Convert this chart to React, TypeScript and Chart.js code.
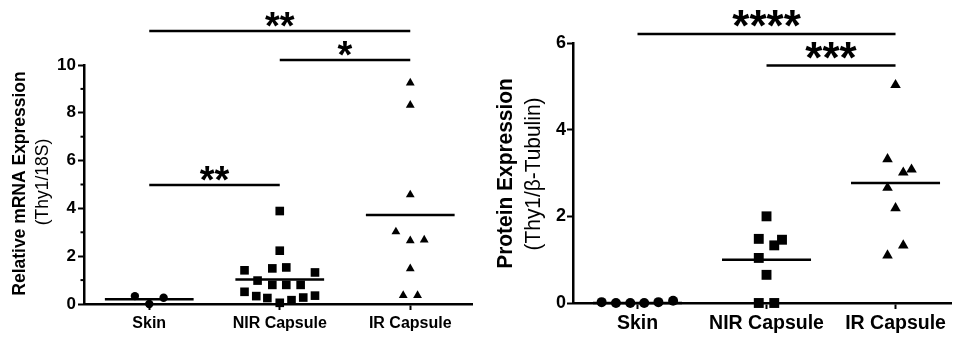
import React, { useEffect, useRef } from 'react';
import { Chart, registerables } from 'chart.js';

Chart.register(...registerables);

const FONT = '"Liberation Sans", Arial, Helvetica, sans-serif';

const categories = ['Skin', 'NIR Capsule', 'IR Capsule'];

// ---- Left panel: Relative mRNA Expression (Thy1/18S) ----
const mrnaSkinX = [-0.11, 0, 0.11];
const mrnaSkinY = [0.33, 0.0, 0.26];
const mrnaNirX = [0, 0, -0.27, -0.057, 0.05, 0.27, -0.17, -0.057, 0.05, 0.16, -0.27, -0.18, -0.095, 0, 0.09, 0.18, 0.27];
const mrnaNirY = [3.89, 2.23, 1.41, 1.49, 1.53, 1.32, 0.98, 0.8, 0.8, 0.8, 0.51, 0.33, 0.25, 0.05, 0.16, 0.27, 0.35];
const mrnaIrX = [0, 0, 0, -0.11, 0, 0.107, 0, -0.054, 0.056];
const mrnaIrY = [9.25, 8.32, 4.57, 3.02, 2.65, 2.68, 1.48, 0.36, 0.36];
const mrnaMeans = [0.2, 1.03, 3.72];
const mrnaTicks = [0, 2, 4, 6, 8, 10];
const mrnaMinorTicks = [1, 3, 5, 7, 9];
const mrnaSigFrom = [0, 1, 0];
const mrnaSigTo = [2, 2, 1];
const mrnaSigY = [11.42, 10.21, 4.98];
const mrnaSigLabels = ['**', '*', '**'];

// ---- Right panel: Protein Expression (Thy1/β-Tubulin) ----
const protSkinX = [-0.278, -0.167, -0.056, 0.052, 0.162, 0.276];
const protSkinY = [0.02, 0, 0, 0, 0.02, 0.05];
const protNirX = [0, -0.06, 0.12, 0.06, -0.06, 0, -0.06, 0.06];
const protNirY = [2.0, 1.48, 1.46, 1.33, 1.04, 0.65, 0, 0];
const protIrX = [0, -0.062, 0.06, 0.124, -0.062, 0, 0.06, -0.062];
const protIrY = [5.03, 3.32, 3.01, 3.08, 2.66, 2.19, 1.33, 1.1];
const protMeans = [0.0, 1.0, 2.77];
const protTicks = [0, 2, 4, 6];
const protMinorTicks: number[] = [];
const protSigFrom = [0, 1];
const protSigTo = [2, 2];
const protSigY = [6.21, 5.48];
const protSigLabels = ['****', '***'];

type Group = { x: number[]; y: number[]; style: string; r: number };
type Spec = {
  left: number; width: number; height: number;
  padTop: number; padRight: number; yAxisWidth: number; xAxisHeight: number;
  xMin: number; xMax: number; yMax: number;
  tickFont: number; catFont: number; catPad: number; yTickPad: number;
  groups: Group[]; means: number[]; meanHalf: number;
  majorTicks: number[]; minorTicks: number[];
  sigFrom: number[]; sigTo: number[]; sigY: number[]; sigLabels: string[];
  starFont: number; starGap: number;
  title1: string; title2: string; titleFont1: number; titleFont2: number; titleSqueeze: number;
  t1x: number; t2x: number; t1y: number; t2y: number;
};

const leftSpec: Spec = {
  left: 0, width: 479, height: 339,
  padTop: 65, padRight: 6, yAxisWidth: 84, xAxisHeight: 35,
  xMin: -0.5, xMax: 2.48, yMax: 10,
  tickFont: 17, catFont: 16, catPad: 4, yTickPad: 2,
  groups: [
    { x: mrnaSkinX, y: mrnaSkinY, style: 'circle', r: 4.2 },
    { x: mrnaNirX, y: mrnaNirY, style: 'rect', r: 6.1 },
    { x: mrnaIrX, y: mrnaIrY, style: 'triangle', r: 5.1 },
  ],
  means: mrnaMeans, meanHalf: 0.34,
  majorTicks: mrnaTicks, minorTicks: mrnaMinorTicks,
  sigFrom: mrnaSigFrom, sigTo: mrnaSigTo, sigY: mrnaSigY, sigLabels: mrnaSigLabels,
  starFont: 38, starGap: 11.5,
  title1: 'Relative mRNA Expression', title2: '(Thy1/18S)', titleFont1: 19, titleFont2: 19, titleSqueeze: 0.92,
  t1x: 20, t2x: 43, t1y: 183.5, t2y: 182,
};

const rightSpec: Spec = {
  left: 479, width: 479, height: 339,
  padTop: 43, padRight: 5, yAxisWidth: 94, xAxisHeight: 36,
  xMin: -0.5, xMax: 2.43, yMax: 6,
  tickFont: 18, catFont: 19.5, catPad: 3, yTickPad: 1,
  groups: [
    { x: protSkinX, y: protSkinY, style: 'circle', r: 5 },
    { x: protNirX, y: protNirY, style: 'rect', r: 7 },
    { x: protIrX, y: protIrY, style: 'triangle', r: 6.1 },
  ],
  means: protMeans, meanHalf: 0.345,
  majorTicks: protTicks, minorTicks: protMinorTicks,
  sigFrom: protSigFrom, sigTo: protSigTo, sigY: protSigY, sigLabels: protSigLabels,
  starFont: 44, starGap: 15,
  title1: 'Protein Expression', title2: '(Thy1/\u03b2-Tubulin)', titleFont1: 22, titleFont2: 22, titleSqueeze: 0.95,
  t1x: 27, t2x: 55, t1y: 173.5, t2y: 174,
};

function Panel({ spec }: { spec: Spec }) {
  const ref = useRef<HTMLCanvasElement>(null);
  useEffect(() => {
    const canvas = ref.current;
    if (!canvas) return;
    const s = spec;
    const datasets: any[] = [];
    s.groups.forEach((g, i) => {
      datasets.push({
        type: 'scatter',
        data: g.x.map((dx, k) => ({ x: i + dx, y: g.y[k] })),
        pointStyle: g.style,
        pointRadius: g.r,
        pointHoverRadius: g.r,
        backgroundColor: '#000',
        borderColor: '#000',
        borderWidth: 0,
        clip: false,
      });
    });
    s.means.forEach((m, i) => {
      datasets.push({
        type: 'line',
        data: [{ x: i - s.meanHalf, y: m }, { x: i + s.meanHalf, y: m }],
        borderColor: '#000', borderWidth: 2.5, pointRadius: 0, fill: false, clip: false,
      });
    });
    s.sigY.forEach((y, k) => {
      datasets.push({
        type: 'line',
        data: [{ x: s.sigFrom[k], y }, { x: s.sigTo[k], y }],
        borderColor: '#000', borderWidth: 2.5, pointRadius: 0, fill: false, clip: false,
      });
    });

    const decor = {
      id: 'decor',
      afterDraw(chart: any) {
        const ctx = chart.ctx as CanvasRenderingContext2D;
        const xs = chart.scales.x;
        const ys = chart.scales.y;
        const area = chart.chartArea;
        ctx.save();
        ctx.strokeStyle = '#000';
        ctx.lineWidth = 2;
        s.minorTicks.forEach((v) => {
          const py = ys.getPixelForValue(v);
          ctx.beginPath();
          ctx.moveTo(area.left - 3.5, py);
          ctx.lineTo(area.left, py);
          ctx.stroke();
        });
        ctx.fillStyle = '#000';
        ctx.font = `bold ${s.starFont}px ${FONT}`;
        ctx.textAlign = 'center';
        ctx.textBaseline = 'alphabetic';
        s.sigLabels.forEach((lab, k) => {
          const cx = xs.getPixelForValue((s.sigFrom[k] + s.sigTo[k]) / 2);
          const cy = ys.getPixelForValue(s.sigY[k]) - s.starGap;
          const m = ctx.measureText(lab);
          ctx.fillText(lab, cx, cy + (m.actualBoundingBoxAscent - m.actualBoundingBoxDescent) / 2);
        });
        const drawRot = (text: string, x: number, y: number, font: string) => {
          ctx.save();
          ctx.translate(x, y);
          ctx.rotate(-Math.PI / 2);
          ctx.scale(s.titleSqueeze, 1);
          ctx.font = font;
          ctx.textAlign = 'center';
          ctx.textBaseline = 'middle';
          ctx.fillText(text, 0, 0);
          ctx.restore();
        };
        drawRot(s.title1, s.t1x, s.t1y, `bold ${s.titleFont1}px ${FONT}`);
        drawRot(s.title2, s.t2x, s.t2y, `${s.titleFont2}px ${FONT}`);
        ctx.restore();
      },
    };

    const chart = new Chart(canvas, {
      type: 'scatter',
      data: { datasets },
      options: {
        animation: false,
        responsive: false,
        devicePixelRatio: 1,
        events: [],
        layout: { padding: { top: s.padTop, right: s.padRight, left: 0, bottom: 0 } },
        plugins: { legend: { display: false }, tooltip: { enabled: false } },
        scales: {
          x: {
            type: 'linear',
            min: s.xMin,
            max: s.xMax,
            afterBuildTicks: (sc: any) => { sc.ticks = [0, 1, 2].map((v) => ({ value: v })); },
            afterFit: (sc: any) => { sc.height = s.xAxisHeight; },
            ticks: {
              callback: (v: any) => categories[v as number] ?? '',
              font: { family: FONT, size: s.catFont, weight: 'bold' },
              color: '#000',
              padding: s.catPad,
              maxRotation: 0,
              autoSkip: false,
            },
            grid: { display: true, drawOnChartArea: false, drawTicks: true, tickLength: 6, tickWidth: 2, tickColor: '#000' },
            border: { display: true, color: '#000', width: 2.5 },
          },
          y: {
            type: 'linear',
            min: 0,
            max: s.yMax,
            afterBuildTicks: (sc: any) => { sc.ticks = s.majorTicks.map((v) => ({ value: v })); },
            afterFit: (sc: any) => { sc.width = s.yAxisWidth; },
            ticks: {
              font: { family: FONT, size: s.tickFont, weight: 'bold' },
              color: '#000',
              padding: s.yTickPad,
            },
            grid: { display: true, drawOnChartArea: false, drawTicks: true, tickLength: 6, tickWidth: 2, tickColor: '#000' },
            border: { display: true, color: '#000', width: 2.5 },
          },
        },
      } as any,
      plugins: [decor],
    });
    return () => chart.destroy();
  }, [spec]);

  return (
    <canvas
      ref={ref}
      width={spec.width}
      height={spec.height}
      style={{ position: 'absolute', left: spec.left, top: 0, width: spec.width, height: spec.height, display: 'block' }}
    />
  );
}

export default function App() {
  return (
    <div style={{ position: 'absolute', left: 0, top: 0, width: 958, height: 339, background: '#fff', overflow: 'hidden' }}>
      <Panel spec={leftSpec} />
      <Panel spec={rightSpec} />
    </div>
  );
}
